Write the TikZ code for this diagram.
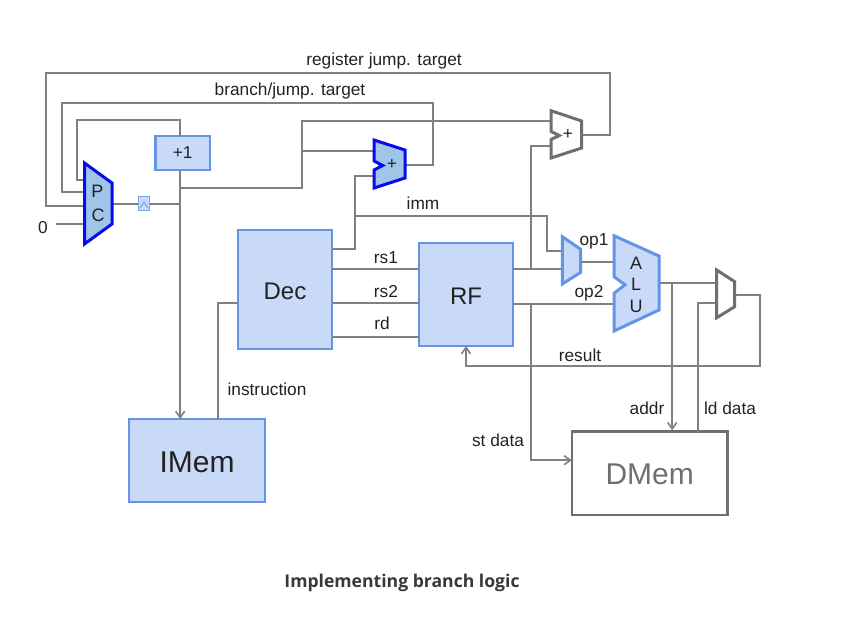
\documentclass[tikz,border=0pt]{standalone}
\usepackage{fontspec}
\setmainfont{Liberation Sans}
\newfontfamily\capfont{Open Sans}
\usetikzlibrary{arrows.meta}
\definecolor{wirec}{HTML}{808080}
\definecolor{lightfill}{HTML}{C9DAF8}
\definecolor{lightedge}{HTML}{6394E8}
\definecolor{darkfill}{HTML}{9FC5E8}
\definecolor{pureblue}{HTML}{0A0AF0}
\definecolor{greyedge}{HTML}{6F6F6F}
\definecolor{inktext}{HTML}{222222}
\tikzset{
  wire/.style={draw=wirec,line width=2pt,line join=miter},
  arrowwire/.style={wire,-{Straight Barb[length=6.5pt,width=9pt,line width=1.6pt]}},
  lightbox/.style={draw=lightedge,fill=lightfill,line width=2.8pt,inner sep=0pt,outer sep=0pt,text=inktext},
  greybox/.style={draw=greyedge,fill=white,line width=2.8pt,inner sep=0pt,outer sep=0pt,text=greyedge},
  lightmux/.style={draw=lightedge,fill=lightfill,line width=3pt,line join=miter},
  bluemux/.style={draw=pureblue,fill=darkfill,line width=3pt,line join=miter},
  greymux/.style={draw=greyedge,fill=white,line width=3pt,line join=miter},
  lab/.style={anchor=base,font=\fontsize{17.3}{19}\selectfont,text=inktext,inner sep=0pt},
}
\begin{document}
\begin{tikzpicture}[x=1pt,y=-1pt]
\useasboundingbox (0,0) rectangle (841,622);
% boxes
\node[lightbox,minimum width=54.5pt,minimum height=34pt] (inc) at (182.7,153) {};
\node[lightbox,minimum width=94pt,minimum height=119pt] (dec) at (285,289.5) {};
\node[lightbox,minimum width=94pt,minimum height=103pt] (rf) at (466,294.5) {};
\node[lightbox,minimum width=136pt,minimum height=83pt] (imem) at (197,460.5) {};
\node[greybox,minimum width=155.5pt,minimum height=83.5pt] (dmem) at (649.7,473.2) {};
% named pins
\coordinate (zero) at (56,223.5);
\coordinate (pcout) at (112,203.5);
\coordinate (pcj) at (180.2,203.5);
\coordinate (incj) at (180.2,188.2);
\coordinate (inctop) at (180.2,136);
\coordinate (incbot) at (180.2,170);
\coordinate (pcr) at (84.5,206.2);
\coordinate (pcb) at (84.5,192.2);
\coordinate (pcp) at (84.5,180.2);
\coordinate (pczero) at (84.5,223.5);
\coordinate (addin) at (374,151.2);
\coordinate (addimm) at (374,176.2);
\coordinate (addout) at (405,165.2);
\coordinate (jin) at (551,121.2);
\coordinate (jrs) at (551,146.2);
\coordinate (jout) at (581.7,135.2);
\coordinate (opin) at (562.3,251.2);
\coordinate (oprs) at (562.3,269.2);
\coordinate (opout) at (580.7,262.2);
\coordinate (aluin) at (614,262.2);
\coordinate (aluop) at (614,304.2);
\coordinate (aluout) at (659,283.2);
\coordinate (wbin) at (716.7,283.2);
\coordinate (wbld) at (716.7,303.2);
\coordinate (wbout) at (734.7,295.2);
% wires
\draw[wire] (pcr) -| (46.2,73.2) -| (610.2,135.2) -- (jout);
\draw[wire] (pcb) -| (62.2,103.2) -| (433.2,165.2) -- (addout);
\draw[wire] (pcp) -| (77.2,120.2) -| (inctop);
\draw[wire] (zero) -- (pczero);
\draw[wire] (pcout) -- (pcj);
\draw[arrowwire] (incbot) -- (incbot |- imem.north);
\draw[wire] (incj) -| (302.2,121.2) -- (jin);
\draw[wire] (302.2,151.2) -- (addin);
\draw[wire] (jrs) -| (531.2,269.2);
\draw[wire] (dec.east |- 0,249.2) -| (355.2,176.2) -- (addimm);
\draw[wire] (355.2,216.2) -| (547.2,251.2) -- (opin);
\draw[wire] (dec.east |- 0,269.2) -- (rf.west |- 0,269.2);
\draw[wire] (dec.east |- 0,303.2) -- (rf.west |- 0,303.2);
\draw[wire] (dec.east |- 0,337.2) -- (rf.west |- 0,337.2);
\draw[wire] (rf.east |- 0,269.2) -- (oprs);
\draw[wire] (opout) -- (aluin);
\draw[wire] (rf.east |- 0,304.2) -- (aluop);
\draw[arrowwire] (531.2,304.2) |- (dmem.west |- 0,460.2);
\draw[wire] (aluout) -- (wbin);
\draw[arrowwire] (672.2,283.2) -- (672.2,430.3);
\draw[wire] (wbld) -| (698.2,431.5);
\draw[arrowwire] (wbout) -| (760.2,366.2) -| (rf.south);
\draw[wire] (dec.west |- 0,303.2) -| (218.2,419);
% clock symbol
\node[draw=lightedge!85,fill=lightfill,line width=1.3pt,minimum width=10.5pt,minimum height=14pt,inner sep=0pt] (clk) at (144,203.7) {};
\draw[draw=lightedge!85,line width=1.1pt] (140.3,208) -- (144,202) -- (147.7,208);
% muxes
\path[bluemux] (84.5,163) -- (112,183) -- (112,224) -- (84.5,244) -- cycle;
\path[bluemux] (374,140) -- (405,150) -- (405,178) -- (374,188) -- (374,170) -- (382.7,165.5) -- (374,161) -- cycle;
\path[greymux] (551,110.7) -- (581.7,121) -- (581.7,148) -- (551,158) -- (551,139.5) -- (559.3,135.5) -- (551,131.5) -- cycle;
\path[lightmux] (562.3,236.7) -- (580.7,249.3) -- (580.7,272.3) -- (562.3,284) -- cycle;
\path[lightmux] (614,235.7) -- (659,256) -- (659,310) -- (614,331) -- (614,293.3) -- (625,284.8) -- (614,276.7) -- cycle;
\path[greymux] (716.7,270) -- (734.7,281.7) -- (734.7,306.7) -- (716.7,317.7) -- cycle;
% labels
\node[lab] (l1) at (384,65) {register jump. target};
\node[lab] (l2) at (290,95) {branch/jump. target};
\node[lab] (l3) at (423,209) {imm};
\node[lab] (l4) at (386,263) {rs1};
\node[lab] (l5) at (386,297) {rs2};
\node[lab] (l6) at (382,329) {rd};
\node[lab] (l7) at (594,245) {op1};
\node[lab] (l8) at (589,297) {op2};
\node[lab] (l9) at (580,361) {result};
\node[lab] (l10) at (267,395) {instruction};
\node[lab] (l11) at (647,414) {addr};
\node[lab] (l12) at (730,414) {ld data};
\node[lab] (l13) at (498,446) {st data};
\node[lab] (l14) at (43,233) {0};
\node[lab,font=\fontsize{18}{20}\selectfont] (l15) at (97.5,197) {P};
\node[lab,font=\fontsize{18}{20}\selectfont] (l16) at (98,221) {C};
\node[lab] (l17) at (182.7,158.5) {+1};
\node[lab] (l18) at (392,169) {+};
\node[lab] (l19) at (568,139) {+};
\node[lab,font=\fontsize{18}{20}\selectfont] (l20) at (636,269) {A};
\node[lab,font=\fontsize{18}{20}\selectfont] (l21) at (636,290) {L};
\node[lab,font=\fontsize{18}{20}\selectfont] (l22) at (636,312) {U};
\node[lab,font=\fontsize{24}{26}\selectfont] (l23) at (285,299) {Dec};
\node[lab,font=\fontsize{24}{26}\selectfont] (l24) at (466,304) {RF};
\node[lab,font=\fontsize{30}{32}\selectfont] (l25) at (197,472) {IMem};
\node[lab,font=\fontsize{30}{32}\selectfont,text=greyedge] (l26) at (649.7,484) {DMem};
\node[lab,font=\capfont\bfseries\fontsize{17.6}{20}\selectfont,text=black!78] (l27) at (402,587) {Implementing branch logic};
\end{tikzpicture}
\end{document}
